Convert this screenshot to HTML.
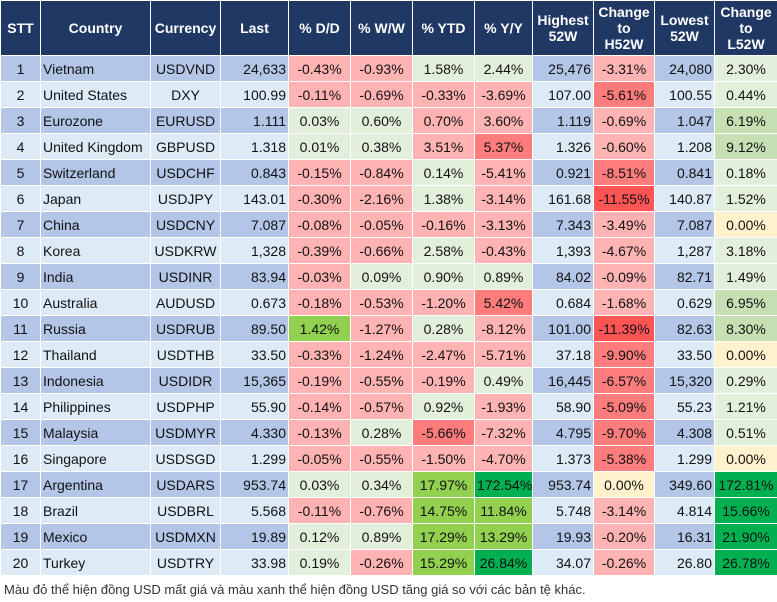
<!DOCTYPE html>
<html><head><meta charset="utf-8"><style>
body{margin:0;background:#fff;width:777px;height:602px;overflow:hidden;font-family:"Liberation Sans",Arial,sans-serif;}
table{position:absolute;left:0;top:0;border-collapse:collapse;table-layout:fixed;width:777px;font-size:14px;color:#111;}
tr{height:26px;}
tr.h{height:55px;}
td,th{border:1.5px solid #fff;padding:0 2px;white-space:nowrap;overflow:hidden;}
th{background:#203864;color:#fff;font-weight:bold;text-align:center;line-height:16px;font-size:14px;}
td{text-align:center;}
tr.o td.b{background:#B4C6E7}tr.e td.b{background:#DDEBF7}
td.l{text-align:left}td.r{text-align:right}
.p{background:#FFB3B3}.R{background:#FF7C7C}.RR{background:#FF5555}
.g{background:#E2EFDA}.m{background:#C6E0B4}.G{background:#92D050}.D{background:#00B050}.y{background:#FFF2CC}
.foot{position:absolute;left:4px;top:582px;font-size:13px;color:#333;}
</style></head><body>
<table>
<colgroup><col style="width:40px"><col style="width:110px"><col style="width:70px"><col style="width:68px"><col style="width:62px"><col style="width:62px"><col style="width:62px"><col style="width:58px"><col style="width:61px"><col style="width:61px"><col style="width:60px"><col style="width:63px"></colgroup>
<tr class="h"><th>STT</th><th>Country</th><th>Currency</th><th>Last</th><th>% D/D</th><th>% W/W</th><th>% YTD</th><th>% Y/Y</th><th>Highest<br>52W</th><th>Change<br>to<br>H52W</th><th>Lowest<br>52W</th><th>Change<br>to<br>L52W</th></tr>
<tr class="o"><td class="b">1</td><td class="b l">Vietnam</td><td class="b">USDVND</td><td class="b r">24,633</td><td class="p">-0.43%</td><td class="p">-0.93%</td><td class="g">1.58%</td><td class="g">2.44%</td><td class="b r">25,476</td><td class="p">-3.31%</td><td class="b r">24,080</td><td class="g">2.30%</td></tr>
<tr class="e"><td class="b">2</td><td class="b l">United States</td><td class="b">DXY</td><td class="b r">100.99</td><td class="p">-0.11%</td><td class="p">-0.69%</td><td class="p">-0.33%</td><td class="p">-3.69%</td><td class="b r">107.00</td><td class="R">-5.61%</td><td class="b r">100.55</td><td class="g">0.44%</td></tr>
<tr class="o"><td class="b">3</td><td class="b l">Eurozone</td><td class="b">EURUSD</td><td class="b r">1.111</td><td class="g">0.03%</td><td class="g">0.60%</td><td class="p">0.70%</td><td class="p">3.60%</td><td class="b r">1.119</td><td class="p">-0.69%</td><td class="b r">1.047</td><td class="m">6.19%</td></tr>
<tr class="e"><td class="b">4</td><td class="b l">United Kingdom</td><td class="b">GBPUSD</td><td class="b r">1.318</td><td class="g">0.01%</td><td class="g">0.38%</td><td class="p">3.51%</td><td class="R">5.37%</td><td class="b r">1.326</td><td class="p">-0.60%</td><td class="b r">1.208</td><td class="m">9.12%</td></tr>
<tr class="o"><td class="b">5</td><td class="b l">Switzerland</td><td class="b">USDCHF</td><td class="b r">0.843</td><td class="p">-0.15%</td><td class="p">-0.84%</td><td class="g">0.14%</td><td class="p">-5.41%</td><td class="b r">0.921</td><td class="R">-8.51%</td><td class="b r">0.841</td><td class="g">0.18%</td></tr>
<tr class="e"><td class="b">6</td><td class="b l">Japan</td><td class="b">USDJPY</td><td class="b r">143.01</td><td class="p">-0.30%</td><td class="p">-2.16%</td><td class="g">1.38%</td><td class="p">-3.14%</td><td class="b r">161.68</td><td class="RR">-11.55%</td><td class="b r">140.87</td><td class="g">1.52%</td></tr>
<tr class="o"><td class="b">7</td><td class="b l">China</td><td class="b">USDCNY</td><td class="b r">7.087</td><td class="p">-0.08%</td><td class="p">-0.05%</td><td class="p">-0.16%</td><td class="p">-3.13%</td><td class="b r">7.343</td><td class="p">-3.49%</td><td class="b r">7.087</td><td class="y">0.00%</td></tr>
<tr class="e"><td class="b">8</td><td class="b l">Korea</td><td class="b">USDKRW</td><td class="b r">1,328</td><td class="p">-0.39%</td><td class="p">-0.66%</td><td class="g">2.58%</td><td class="p">-0.43%</td><td class="b r">1,393</td><td class="p">-4.67%</td><td class="b r">1,287</td><td class="g">3.18%</td></tr>
<tr class="o"><td class="b">9</td><td class="b l">India</td><td class="b">USDINR</td><td class="b r">83.94</td><td class="p">-0.03%</td><td class="g">0.09%</td><td class="g">0.90%</td><td class="g">0.89%</td><td class="b r">84.02</td><td class="p">-0.09%</td><td class="b r">82.71</td><td class="g">1.49%</td></tr>
<tr class="e"><td class="b">10</td><td class="b l">Australia</td><td class="b">AUDUSD</td><td class="b r">0.673</td><td class="p">-0.18%</td><td class="p">-0.53%</td><td class="p">-1.20%</td><td class="R">5.42%</td><td class="b r">0.684</td><td class="p">-1.68%</td><td class="b r">0.629</td><td class="m">6.95%</td></tr>
<tr class="o"><td class="b">11</td><td class="b l">Russia</td><td class="b">USDRUB</td><td class="b r">89.50</td><td class="G">1.42%</td><td class="p">-1.27%</td><td class="g">0.28%</td><td class="p">-8.12%</td><td class="b r">101.00</td><td class="RR">-11.39%</td><td class="b r">82.63</td><td class="m">8.30%</td></tr>
<tr class="e"><td class="b">12</td><td class="b l">Thailand</td><td class="b">USDTHB</td><td class="b r">33.50</td><td class="p">-0.33%</td><td class="p">-1.24%</td><td class="p">-2.47%</td><td class="p">-5.71%</td><td class="b r">37.18</td><td class="R">-9.90%</td><td class="b r">33.50</td><td class="y">0.00%</td></tr>
<tr class="o"><td class="b">13</td><td class="b l">Indonesia</td><td class="b">USDIDR</td><td class="b r">15,365</td><td class="p">-0.19%</td><td class="p">-0.55%</td><td class="p">-0.19%</td><td class="g">0.49%</td><td class="b r">16,445</td><td class="R">-6.57%</td><td class="b r">15,320</td><td class="g">0.29%</td></tr>
<tr class="e"><td class="b">14</td><td class="b l">Philippines</td><td class="b">USDPHP</td><td class="b r">55.90</td><td class="p">-0.14%</td><td class="p">-0.57%</td><td class="g">0.92%</td><td class="p">-1.93%</td><td class="b r">58.90</td><td class="R">-5.09%</td><td class="b r">55.23</td><td class="g">1.21%</td></tr>
<tr class="o"><td class="b">15</td><td class="b l">Malaysia</td><td class="b">USDMYR</td><td class="b r">4.330</td><td class="p">-0.13%</td><td class="g">0.28%</td><td class="R">-5.66%</td><td class="p">-7.32%</td><td class="b r">4.795</td><td class="R">-9.70%</td><td class="b r">4.308</td><td class="g">0.51%</td></tr>
<tr class="e"><td class="b">16</td><td class="b l">Singapore</td><td class="b">USDSGD</td><td class="b r">1.299</td><td class="p">-0.05%</td><td class="p">-0.55%</td><td class="p">-1.50%</td><td class="p">-4.70%</td><td class="b r">1.373</td><td class="R">-5.38%</td><td class="b r">1.299</td><td class="y">0.00%</td></tr>
<tr class="o"><td class="b">17</td><td class="b l">Argentina</td><td class="b">USDARS</td><td class="b r">953.74</td><td class="g">0.03%</td><td class="g">0.34%</td><td class="G">17.97%</td><td class="D">172.54%</td><td class="b r">953.74</td><td class="y">0.00%</td><td class="b r">349.60</td><td class="D">172.81%</td></tr>
<tr class="e"><td class="b">18</td><td class="b l">Brazil</td><td class="b">USDBRL</td><td class="b r">5.568</td><td class="p">-0.11%</td><td class="p">-0.76%</td><td class="G">14.75%</td><td class="G">11.84%</td><td class="b r">5.748</td><td class="p">-3.14%</td><td class="b r">4.814</td><td class="D">15.66%</td></tr>
<tr class="o"><td class="b">19</td><td class="b l">Mexico</td><td class="b">USDMXN</td><td class="b r">19.89</td><td class="g">0.12%</td><td class="g">0.89%</td><td class="G">17.29%</td><td class="G">13.29%</td><td class="b r">19.93</td><td class="p">-0.20%</td><td class="b r">16.31</td><td class="D">21.90%</td></tr>
<tr class="e"><td class="b">20</td><td class="b l">Turkey</td><td class="b">USDTRY</td><td class="b r">33.98</td><td class="g">0.19%</td><td class="p">-0.26%</td><td class="G">15.29%</td><td class="D">26.84%</td><td class="b r">34.07</td><td class="p">-0.26%</td><td class="b r">26.80</td><td class="D">26.78%</td></tr>
</table>
<div class="foot">Màu đỏ thể hiện đồng USD mất giá và màu xanh thể hiện đồng USD tăng giá so với các bản tệ khác.</div>
</body></html>
